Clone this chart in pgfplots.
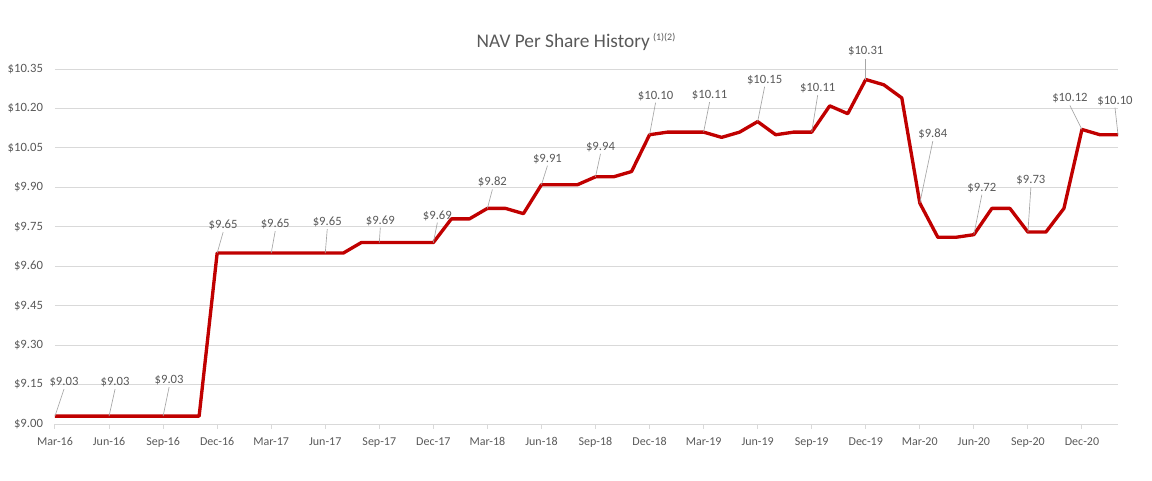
\documentclass[border=0pt]{standalone}
\usepackage{fontspec}
\setmainfont{Carlito}
\usepackage{pgfplots}
\pgfplotsset{compat=1.18}
\definecolor{navred}{HTML}{C00000}
\definecolor{txtgray}{HTML}{595959}
\definecolor{gridgray}{HTML}{D9D9D9}
\definecolor{leadgray}{HTML}{A6A6A6}
\newcommand{\lbl}[5]{%
  \draw[leadgray, line width=0.5pt] (axis cs:#1,#2) -- ++({#3*0.75pt},{(#4-7)*0.75pt});
  \node[txtgray, font=\fontsize{9.5}{11}\selectfont, inner sep=0pt] at ([shift={({#3*0.75pt},{#4*0.75pt})}]axis cs:#1,#2) {\$#5};}
\begin{document}
\begin{tikzpicture}
\path[use as bounding box] (-41.25pt,-42pt) rectangle (822.75pt,318pt);
\begin{axis}[
  at={(0,0)}, anchor=south west,
  scale only axis, width=797.25pt, height=266.25pt,
  xmin=0, xmax=59, ymin=9.00, ymax=10.35,
  clip=false,
  axis lines*=left,
  y axis line style={draw=none},
  x axis line style={draw=gridgray, line width=0.75pt},
  ymajorgrids, grid style={gridgray, line width=0.75pt},
  ytick={9.00,9.15,...,10.36},
  ytick style={draw=none},
  xtick={0,3,...,57},
  xticklabels={Mar-16,Jun-16,Sep-16,Dec-16,Mar-17,Jun-17,Sep-17,Dec-17,Mar-18,Jun-18,Sep-18,Dec-18,Mar-19,Jun-19,Sep-19,Dec-19,Mar-20,Jun-20,Sep-20,Dec-20},
  xtick style={draw=gridgray, line width=0.75pt},
  tick align=outside, major tick length=3.5pt,
  /pgf/number format/assume math mode=true,
  yticklabel={\$\pgfmathprintnumber[fixed,fixed zerofill,precision=2]{\tick}},
  yticklabel style={txtgray, font=\fontsize{9.5}{11}\selectfont, xshift=-2pt},
  xticklabel style={txtgray, font=\fontsize{9}{11}\selectfont, yshift=-3pt},
]
\addplot[navred, line width=2.5pt, line join=round, mark=none] coordinates {
(0,9.03)(1,9.03)(2,9.03)(3,9.03)(4,9.03)(5,9.03)(6,9.03)(7,9.03)(8,9.03)
(9,9.65)(10,9.65)(11,9.65)(12,9.65)(13,9.65)(14,9.65)(15,9.65)(16,9.65)
(17,9.69)(18,9.69)(19,9.69)(20,9.69)(21,9.69)
(22,9.78)(23,9.78)(24,9.82)(25,9.82)(26,9.80)
(27,9.91)(28,9.91)(29,9.91)(30,9.94)(31,9.94)(32,9.96)
(33,10.10)(34,10.11)(35,10.11)(36,10.11)(37,10.09)(38,10.11)(39,10.15)
(40,10.10)(41,10.11)(42,10.11)(43,10.21)(44,10.18)(45,10.31)(46,10.29)(47,10.24)
(48,9.84)(49,9.71)(50,9.71)(51,9.72)(52,9.82)(53,9.82)(54,9.73)(55,9.73)(56,9.82)
(57,10.12)(58,10.10)(59,10.10)
};
\lbl{0}{9.03}{9}{34}{9.03}
\lbl{3}{9.03}{6}{34}{9.03}
\lbl{6}{9.03}{6}{36}{9.03}
\lbl{9}{9.65}{6}{28}{9.65}
\lbl{12}{9.65}{4}{29}{9.65}
\lbl{15}{9.65}{2}{31}{9.65}
\lbl{18}{9.69}{1}{22}{9.69}
\lbl{21}{9.69}{4}{27}{9.69}
\lbl{24}{9.82}{5}{26}{9.82}
\lbl{27}{9.91}{6}{26}{9.91}
\lbl{30}{9.94}{5}{30}{9.94}
\lbl{33}{10.10}{6}{39}{10.10}
\lbl{36}{10.11}{6}{37}{10.11}
\lbl{39}{10.15}{7}{42}{10.15}
\lbl{42}{10.11}{6}{44}{10.11}
\lbl{45}{10.31}{0}{28}{10.31}
\lbl{48}{9.84}{13}{69}{9.84}
\lbl{51}{9.72}{8}{47}{9.72}
\lbl{54}{9.73}{3}{52}{9.73}
\lbl{57}{10.12}{-12}{31}{10.12}
\lbl{59}{10.10}{-3}{34}{10.10}
\end{axis}
\node[txtgray, font=\fontsize{14.5}{17}\selectfont, inner sep=0pt] at (390.75pt,286.5pt) {NAV Per Share History\,\raisebox{5pt}{\fontsize{7.5}{9}\selectfont (1)(2)}};
\end{tikzpicture}
\end{document}
